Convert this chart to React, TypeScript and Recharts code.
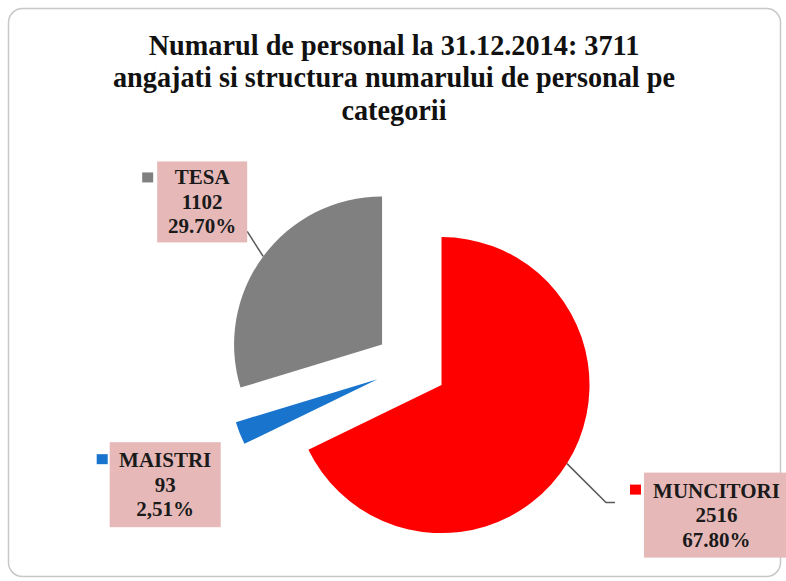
import React from "react";
import { PieChart, Pie, Cell, Sector } from "recharts";

const categories = ["MUNCITORI", "MAISTRI", "TESA"];
const headcount = [2516, 93, 1102];
const percentLabels = ["67.80%", "2,51%", "29.70%"];
const sliceColors = ["#ff0000", "#1874cd", "#808080"];
const titleLines = [
  "Numarul de personal la 31.12.2014: 3711",
  "angajati si structura numarului de personal pe",
  "categorii",
];

const data = categories.map((name, i) => ({
  name,
  value: headcount[i],
  pct: percentLabels[i],
}));

const RAD = Math.PI / 180;
const EXPLODE = 36;
const SERIF = "'Liberation Serif', 'Times New Roman', serif";

// label box layout relative to slice's outer-arc midpoint (style only)
const labelLayout: Record<string, any> = {
  MUNCITORI: { dx: 77, dy: 9, w: 145, h: 85, sq: [63, 21], line: [[39, 39], [48, 39]] },
  TESA: { dx: -106, dy: -95, w: 90, h: 81, sq: [-121, -84], line: [[-16, -25]] },
  MAISTRI: { dx: -130, dy: 9, w: 111, h: 85, sq: [-143, 21], line: null },
};

const explodedCenter = (cx: number, cy: number, midAngle: number) => ({
  x: cx + EXPLODE * Math.cos(-midAngle * RAD),
  y: cy + EXPLODE * Math.sin(-midAngle * RAD),
});

const renderSector = (props: any) => {
  const c = explodedCenter(props.cx, props.cy, props.midAngle);
  return <Sector {...props} cx={c.x} cy={c.y} stroke="none" />;
};

const renderLabel = (props: any) => {
  const { cx, cy, midAngle, outerRadius, name, index } = props;
  const c = explodedCenter(cx, cy, midAngle);
  const ax = c.x + outerRadius * Math.cos(-midAngle * RAD);
  const ay = c.y + outerRadius * Math.sin(-midAngle * RAD);
  const L = labelLayout[name];
  const bx = ax + L.dx;
  const by = ay + L.dy;
  const lines = [name, String(headcount[index]), percentLabels[index]];
  const pts = L.line
    ? [[ax, ay], ...L.line.map((p: number[]) => [ax + p[0], ay + p[1]])]
    : null;
  return (
    <g key={`lbl-${name}`}>
      {pts && (
        <polyline
          points={pts.map((p) => p.join(",")).join(" ")}
          fill="none"
          stroke="#595959"
          strokeWidth={1.5}
        />
      )}
      <rect x={bx} y={by} width={L.w} height={L.h} fill="#e6b9b8" />
      <rect x={ax + L.sq[0]} y={ay + L.sq[1]} width={11} height={10} fill={sliceColors[index]} />
      {lines.map((t, i) => (
        <text
          key={i}
          x={bx + L.w / 2}
          y={by + L.h / 2 + (i - 1) * 24.5}
          textAnchor="middle"
          dominantBaseline="central"
          fontFamily={SERIF}
          fontWeight="bold"
          fontSize={21}
          fill="#1a1a1a"
        >
          {t}
        </text>
      ))}
    </g>
  );
};

export default function App() {
  return (
    <div style={{ position: "absolute", left: 0, top: 0, width: 786, height: 581, background: "#fff" }}>
      <svg width={786} height={581} style={{ position: "absolute", left: 0, top: 0 }}>
        <rect x={8.5} y={8.5} width={772} height={568} rx={14} fill="#fff" stroke="#c8c8c8" strokeWidth={1.5} />
        {titleLines.map((t, i) => (
          <text
            key={i}
            x={394}
            y={55 + i * 32.5}
            textAnchor="middle"
            fontFamily={SERIF}
            fontWeight="bold"
            fontSize={29}
            fill="#111"
            style={{ transform: `translateX(394px) scaleX(0.975) translateX(-394px)` }}
          >
            {t}
          </text>
        ))}
      </svg>
      <div style={{ position: "absolute", left: 0, top: 0 }}>
        <PieChart width={786} height={581}>
          <Pie
            data={data}
            dataKey="value"
            nameKey="name"
            cx={406}
            cy={361}
            outerRadius={148}
            startAngle={90}
            endAngle={-270}
            stroke="none"
            isAnimationActive={false}
            shape={renderSector}
            activeShape={renderSector}
            inactiveShape={renderSector}
            label={renderLabel}
            labelLine={false}
          >
            {data.map((d, i) => (
              <Cell key={d.name} fill={sliceColors[i]} />
            ))}
          </Pie>
        </PieChart>
      </div>
    </div>
  );
}
